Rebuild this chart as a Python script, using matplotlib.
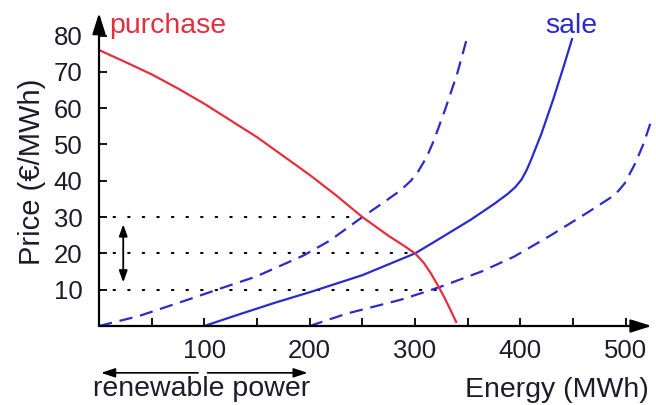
import matplotlib
matplotlib.use("Agg")
import matplotlib.pyplot as plt
from matplotlib.ticker import FixedLocator

plt.rcParams['font.family'] = ['Liberation Sans', 'DejaVu Sans']

# ---- data ----
purchase_x = [0, 25, 50, 75, 100, 150, 200, 225, 250, 275, 290, 300, 308, 315, 322, 327.6, 333, 339]
purchase_y = [76, 72.7, 69.3, 65.4, 61.2, 52, 41.6, 36, 30, 24.8, 22, 20, 17.5, 14.5, 11, 8, 4.8, 1.1]

sale_x = [100, 133, 168, 200, 250, 300, 315, 340, 353, 375, 388, 395, 401, 406, 410, 420, 431, 440, 449]
sale_y = [0, 3.2, 6.5, 9.3, 14, 20, 22.6, 27, 29.3, 33.6, 36.4, 38.2, 40.3, 43, 45.7, 53, 62.3, 70.5, 79]

sale_low_x = [0, 38, 86, 117, 149, 194, 219, 250, 270, 286, 296, 303, 311, 318, 329, 340, 349]
sale_low_y = [0, 2.75, 7.4, 10.5, 13.6, 19.4, 23.5, 30, 34, 37.3, 40, 42.6, 46.5, 51.2, 60, 69.5, 79]

sale_high_x = [200, 235, 286, 314, 327, 363, 394, 429, 464, 487, 493, 499, 509, 517, 525]
sale_high_y = [0, 3.4, 7.2, 9.8, 11.1, 15, 19.1, 25, 31.3, 35.6, 37.2, 39.3, 44.8, 50.3, 57.2]

price_levels = [30, 20, 10]
level_ends = [250, 300, 320]

y_ticks = [10, 20, 30, 40, 50, 60, 70, 80]
x_ticks = [100, 200, 300, 400, 500]
x_minor = [50, 150, 250, 350, 450]

RED = '#e2303f'
BLUE = '#2b2bcc'
TXT = '#1c1c2a'

fig = plt.figure(figsize=(6.56, 4.05), dpi=100)
ax = fig.add_axes([99/656, 1-326/405, 551/656, 313/405])
ax.set_xlim(0, 523)
ax.set_ylim(0, 86.2)

for s in ax.spines.values():
    s.set_visible(False)

# axes with arrows
arrow_axis = dict(arrowstyle='-|>,head_length=0.7,head_width=0.22',
                  lw=1.6, color='k', mutation_scale=18, shrinkA=0, shrinkB=0)
ax.annotate('', xy=(1.003, 0), xytext=(0, 0), xycoords='axes fraction',
            arrowprops=arrow_axis)
ax.annotate('', xy=(0, 1), xytext=(0, 0), xycoords='axes fraction',
            arrowprops=arrow_axis)

# dotted price levels
for lvl, xe in zip(price_levels, level_ends):
    ax.plot([0, xe], [lvl, lvl], color='k', lw=1.5, ls=(0, (0.7, 6.3)),
            dash_capstyle='round')

# curves
dash = (0, (6, 3.5))
ax.plot(sale_low_x, sale_low_y, color=BLUE, lw=1.6, ls=dash, solid_joinstyle='round')
ax.plot(sale_high_x, sale_high_y, color=BLUE, lw=1.6, ls=dash, clip_on=False)
ax.plot(sale_x, sale_y, color=BLUE, lw=1.6, solid_joinstyle='round')
ax.plot(purchase_x, purchase_y, color=RED, lw=1.6, solid_joinstyle='round')

# double arrow showing price range
ax.annotate('', xy=(23, 28), xytext=(23, 12),
            arrowprops=dict(arrowstyle='<|-|>,head_length=0.5,head_width=0.18',
                            lw=1.3, color='k', mutation_scale=14, shrinkA=0, shrinkB=0))

# ticks
ax.yaxis.set_major_locator(FixedLocator(y_ticks))
ax.xaxis.set_major_locator(FixedLocator(x_ticks))
ax.xaxis.set_minor_locator(FixedLocator(x_minor))
ax.tick_params(axis='both', which='both', direction='in', length=6, width=1.3,
               colors='k', labelcolor=TXT, labelsize=18.5)
ax.tick_params(axis='x', which='major', pad=9)
ax.tick_params(axis='y', which='major', pad=12)

# texts
ax.text(9.5, 80.7, 'purchase', color=RED, fontsize=20.5, va='baseline', ha='left')
ax.text(423.5, 80.7, 'sale', color=BLUE, fontsize=20.5, va='baseline', ha='left')
fig.text(32/656, 1-172/405, 'Price (€/MWh)', rotation=90, ha='center', va='center',
         fontsize=21, color=TXT)
ax.text(521.4, -17.5, 'Energy (MWh)', ha='right', va='center', fontsize=20.5,
        color=TXT, clip_on=False)
ax.text(-5.7, -17.3, 'renewable power', ha='left', va='center', fontsize=20.5,
        color=TXT, clip_on=False)

# renewable power arrows
arrow_small = dict(arrowstyle='-|>,head_length=0.6,head_width=0.2',
                   lw=1.2, color='k', mutation_scale=14, shrinkA=0, shrinkB=0)
ax.annotate('', xy=(2, -12.9), xytext=(94, -12.9), annotation_clip=False,
            arrowprops=arrow_small)
ax.annotate('', xy=(198, -12.9), xytext=(103, -12.9), annotation_clip=False,
            arrowprops=arrow_small)

fig.savefig('out.png', dpi=100)
